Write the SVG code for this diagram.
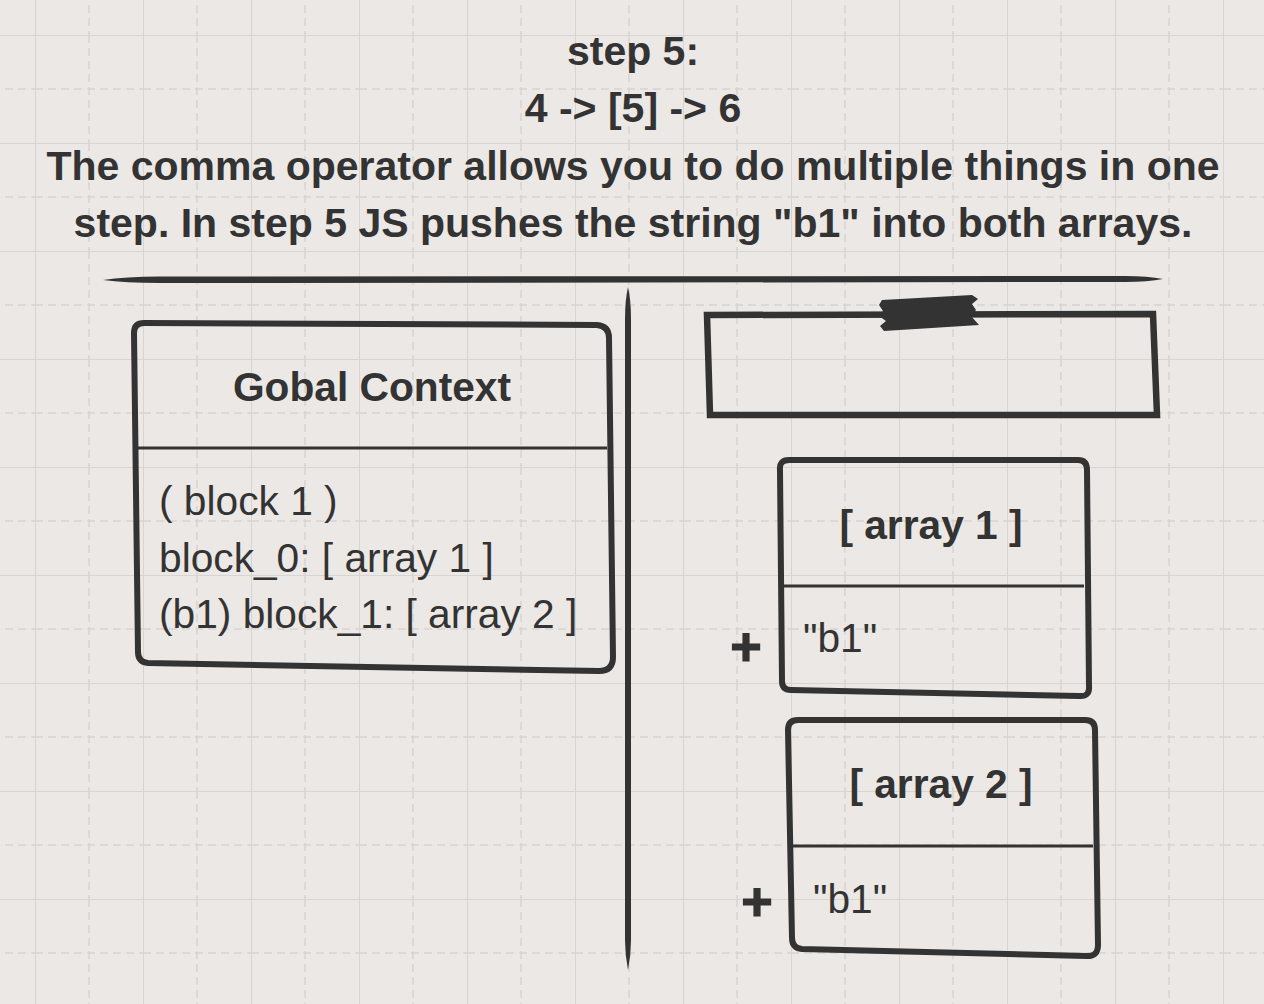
<svg xmlns="http://www.w3.org/2000/svg" width="1264" height="1004" viewBox="0 0 1264 1004">
<defs>
<pattern id="grid" x="35" y="35" width="108" height="108" patternUnits="userSpaceOnUse">
<path d="M0,54 H108 M54,0 V108" stroke="#d7d4d1" stroke-width="1.5" stroke-dasharray="8,5" fill="none"/>
<path d="M0,0 H108 M0,0 V108" stroke="#d7d4d1" stroke-width="2" fill="none"/>
</pattern>
<style>
.t{font-family:"Liberation Sans",Arial,sans-serif;font-size:40.7px;fill:#333}
.b{font-weight:bold}
.h{font-size:41px}
.m{text-anchor:middle}
.box{fill:none;stroke:#333;stroke-width:6;stroke-linejoin:round}
.div{stroke:#333;stroke-width:3}
.ink{fill:#333}
.plus{font-size:54px;stroke:#333;stroke-width:1.2}
</style>
</defs>
<rect width="1264" height="1004" fill="#ebe8e5"/>
<rect width="1264" height="1004" fill="url(#grid)"/>

<g id="title">
<text class="t b h m" x="633" y="65">step 5:</text>
<text class="t b h m" x="633" y="122">4 -&gt; [5] -&gt; 6</text>
<text class="t b h m" x="633" y="180">The comma operator allows you to do multiple things in one</text>
<text class="t b h m" x="633" y="237">step. In step 5 JS pushes the string "b1" into both arrays.</text>
</g>

<g id="connectors">
<path class="ink" d="M103,280 Q125,276.5 160,276.5 L1125,276 Q1148,276 1163,279 Q1148,282 1125,282 L160,283 Q125,283 103,280 Z"/>
<path class="ink" d="M628,287 Q631,300 631,320 L631,940 Q631,955 628,970 Q625,955 625,940 L625,320 Q625,300 628,287 Z"/>
</g>

<g id="global-context">
<path class="box" d="M134,333 Q134,323 144,323 L597,325 Q609,326 609,338 L613,657 Q613,671 599,671 L148,663 Q138,662 138,652 Z"/>
<line class="div" x1="137" y1="448" x2="607" y2="448"/>
<text class="t b m" x="372" y="401">Gobal Context</text>
<text class="t" x="159" y="515">( block 1 )</text>
<text class="t" x="159" y="572">block_0: [ array 1 ]</text>
<text class="t" x="159" y="628">(b1) block_1: [ array 2 ]</text>
</g>

<g id="taped-box">
<path class="box" style="stroke-width:6.5;stroke-linejoin:miter" d="M707,315 L1153,314 L1157,415 L710,415 Z"/>
<path class="ink" d="M882,300 L972,295 L978,299 L972,304 L976,310 L971,316 L979,325 L884,331 L880,326 L886,321 L879,316 L883,311 L879,305 Z"/>
</g>

<g id="array-1">
<path class="box" d="M780,470 Q779,460 789,460 L1078,460 Q1087,460 1087,470 L1089,686 Q1090,697 1079,696 L791,690 Q782,690 782,681 Z"/>
<line class="div" x1="782" y1="586" x2="1084" y2="586"/>
<text class="t b m" x="931" y="539">[ array 1 ]</text>
<text class="t" x="803" y="652">"b1"</text>
<text class="t b m plus" x="746" y="665">+</text>
</g>

<g id="array-2">
<path class="box" d="M788,730 Q788,720 798,720 L1085,720 Q1095,720 1095,730 L1098,945 Q1098,957 1086,956 L802,949 Q792,948 792,938 Z"/>
<line class="div" x1="792" y1="846" x2="1093" y2="846"/>
<text class="t b m" x="941" y="798">[ array 2 ]</text>
<text class="t" x="813" y="913">"b1"</text>
<text class="t b m plus" x="757" y="920">+</text>
</g>
</svg>
